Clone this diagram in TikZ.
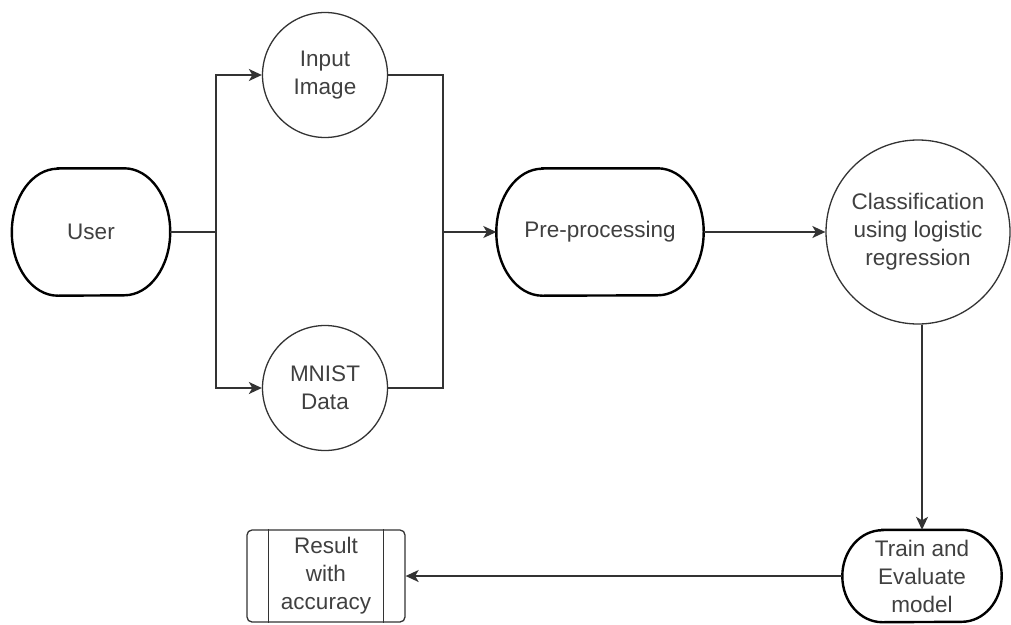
\documentclass[tikz,border=0pt]{standalone}
\usepackage{fontspec}
\setmainfont{Liberation Sans}
\usetikzlibrary{arrows.meta}
\definecolor{inkgray}{HTML}{404040}
\definecolor{wiregray}{HTML}{333333}
\tikzset{
  lbl/.style={align=center, text=inkgray, font=\fontsize{22.5}{28}\selectfont, inner sep=0pt},
  termbox/.style={lbl, draw=none, rectangle},
  circbox/.style={lbl, circle, draw=wiregray, line width=1.3pt},
  resbox/.style={lbl, rectangle, draw=wiregray, line width=1.3pt, rounded corners=5pt},
  wire/.style={draw=wiregray, line width=1.5pt},
  flow/.style={wire, -{Stealth[length=13pt,width=12pt,inset=3.5pt]}},
  bold/.style={draw=black, line width=2.4pt},
}
% stadium outline around a node: node name, end x-radius, end y-radius
\newcommand\stadiumline[3]{%
  \draw[bold] ([xshift=#2]#1.north west) -- ([xshift=-#2]#1.north east)
    arc[start angle=90, end angle=-90, x radius=#2, y radius=#3]
    -- ([xshift=#2]#1.south west)
    arc[start angle=270, end angle=90, x radius=#2, y radius=#3] -- cycle;}
\begin{document}
\begin{tikzpicture}[x=1pt, y=-1pt]
\useasboundingbox[fill=white] (0,0) rectangle (1011,624);

% process nodes
\node[termbox, minimum width=158pt, minimum height=127pt] (user) at (91,232) {User};
\node[circbox, minimum size=125pt] (img) at (325,75) {Input\\Image};
\node[circbox, minimum size=125pt] (mnist) at (325,388) {MNIST\\Data};
\node[termbox, minimum width=207pt, minimum height=127pt] (pre) at (600,232) {Pre-processing};
\node[circbox, minimum size=184pt] (cls) at (918,232) {Classification\\using logistic\\regression};
\node[termbox, minimum width=159pt, minimum height=92pt] (train) at (922,576) {Train and\\Evaluate\\model};
\node[resbox, minimum width=158pt, minimum height=92pt] (res) at (326,576) {Result\\with\\accuracy};

% terminator outlines
\stadiumline{user}{46pt}{63.5pt}
\stadiumline{pre}{46pt}{63.5pt}
\stadiumline{train}{40pt}{46pt}

% side bars of the result box
\draw[wire, line width=1.3pt] ([xshift=22pt]res.north west) -- ([xshift=22pt]res.south west);
\draw[wire, line width=1.3pt] ([xshift=-22pt]res.north east) -- ([xshift=-22pt]res.south east);

% connectors
\coordinate (split) at (216,232);
\coordinate (join) at (443,232);
\draw[wire] (user.east) -- (split);
\draw[flow] (split) |- (img.west);
\draw[flow] (split) |- (mnist.west);
\draw[wire] (img.east) -| (join);
\draw[wire] (mnist.east) -| (join);
\draw[flow] (join) -- (pre.west);
\draw[flow] (pre.east) -- (cls.west);
\draw[flow] (train.north |- cls.south) -- (train.north);
\draw[flow] (train.west) -- (res.east);
\end{tikzpicture}
\end{document}
